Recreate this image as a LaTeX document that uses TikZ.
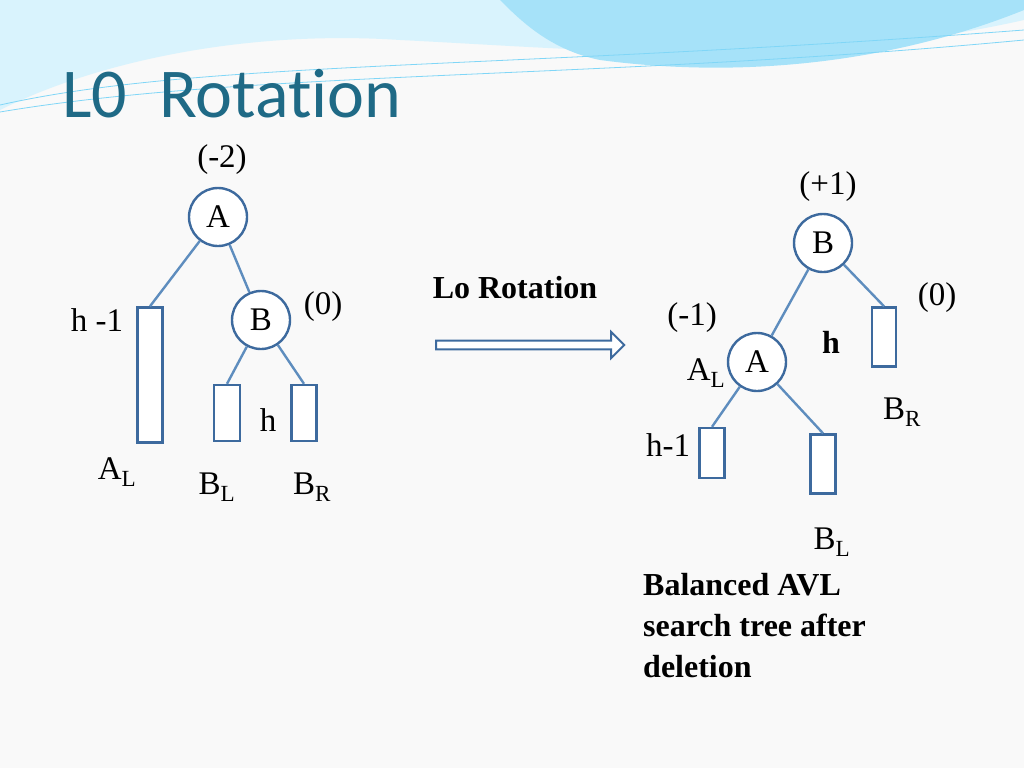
\documentclass[tikz,border=0pt]{standalone}
\usepackage{fontspec}
\setmainfont{Liberation Serif}
\newfontfamily\titlefont[Ligatures=NoCommon]{Carlito}
\usetikzlibrary{shapes.arrows}
\begin{document}
\begin{tikzpicture}[x=1pt,y=-1pt,
  nd/.style={circle,draw=nodeblue,fill=white,line width=2.4pt,minimum size=58pt,inner sep=0pt,font=\fontsize{33}{33}\selectfont},
  lk/.style={draw=linkblue,line width=2.4pt},
  bx/.style={draw=nodeblue,line width=2.4pt,fill=white,inner sep=0pt},
  lb/.style={font=\fontsize{33}{33}\selectfont},
  bl/.style={font=\bfseries\fontsize{32}{32}\selectfont}]
\definecolor{nodeblue}{HTML}{3D6A9E}
\definecolor{linkblue}{HTML}{5E8DBE}
\definecolor{teal}{HTML}{1F6A86}
\fill[white!95!gray] (0,0) rectangle (1024,768);
\useasboundingbox (0,0) rectangle (1024,768);
% header waves
\fill[cyan!15!white] (0,0) -- (1024,0) -- (1024,20) .. controls (800,70) and (600,50) .. (400,40) .. controls (250,30) and (100,60) .. (0,110) -- cycle;
\fill[cyan!35!white] (500,0) -- (1024,0) -- (1024,10) .. controls (900,60) and (750,80) .. (600,60) .. controls (550,50) and (520,20) .. (500,0) -- cycle;
\draw[cyan!50!white,line width=0.8pt] (0,105) .. controls (200,60) and (500,70) .. (1024,30);
\draw[cyan!50!white,line width=0.8pt] (0,112) .. controls (250,70) and (600,80) .. (1024,40);
\node[anchor=base west,text=teal,font=\titlefont\fontsize{70}{70}\selectfont,inner sep=0pt] (title) at (62,117) {L0\hspace{32pt}Rotation};
% left tree
\node[nd] (A) at (218,217) {A};
\node[nd] (B) at (261,320) {B};
\node[bx,minimum width=25pt,minimum height=135pt] (AL) at (150,375) {};
\node[bx,minimum width=26pt,minimum height=56pt] (BL) at (227,413) {};
\node[bx,minimum width=25pt,minimum height=56pt] (BR) at (304,413) {};
\draw[lk] (A) -- (AL.north);
\draw[lk] (A) -- (B);
\draw[lk] (B) -- (BL.north);
\draw[lk] (B) -- (BR.north);
\node[lb] (l1) at (222,160) {(-2)};
\node[lb] (l2) at (323,307) {(0)};
\node[lb] (l3) at (97,320) {h -1};
\node[lb] (l4) at (268,420) {h};
\node[lb] (l5) at (117,472) {A\textsubscript{L}};
\node[lb] (l6) at (217,487) {B\textsubscript{L}};
\node[lb] (l7) at (312,487) {B\textsubscript{R}};
% arrow
\node[single arrow,draw=nodeblue,line width=2pt,fill=white,minimum height=188pt,minimum width=26pt,single arrow head extend=6pt,inner sep=2pt] (arr) at (528,345) {};
\node[bl] (rot) at (515,288) {Lo Rotation};
% right tree
\node[nd] (B2) at (823,243) {B};
\node[nd] (A2) at (757,362) {A};
\node[bx,minimum width=24pt,minimum height=59pt] (BR2) at (884,337) {};
\node[bx,minimum width=25pt,minimum height=50pt] (H2) at (712,453) {};
\node[bx,minimum width=25pt,minimum height=59pt] (BL2) at (823,464) {};
\draw[lk] (B2) -- (A2);
\draw[lk] (B2) -- (BR2.north);
\draw[lk] (A2) -- (H2.north);
\draw[lk] (A2) -- (BL2.north);
\node[lb] (r1) at (828,187) {(+1)};
\node[lb] (r2) at (937,298) {(0)};
\node[lb] (r3) at (692,318) {(-1)};
\node[bl] (r4) at (831,342) {h};
\node[lb] (r5) at (706,373) {A\textsubscript{L}};
\node[lb] (r6) at (902,412) {B\textsubscript{R}};
\node[lb] (r7) at (668,445) {h-1};
\node[lb] (r8) at (832,542) {B\textsubscript{L}};
\node[bl,anchor=north west,align=left,inner sep=0pt] (cap) at (643,573) {Balanced AVL\\[9pt]search tree after\\[9pt]deletion};
\end{tikzpicture}
\end{document}
